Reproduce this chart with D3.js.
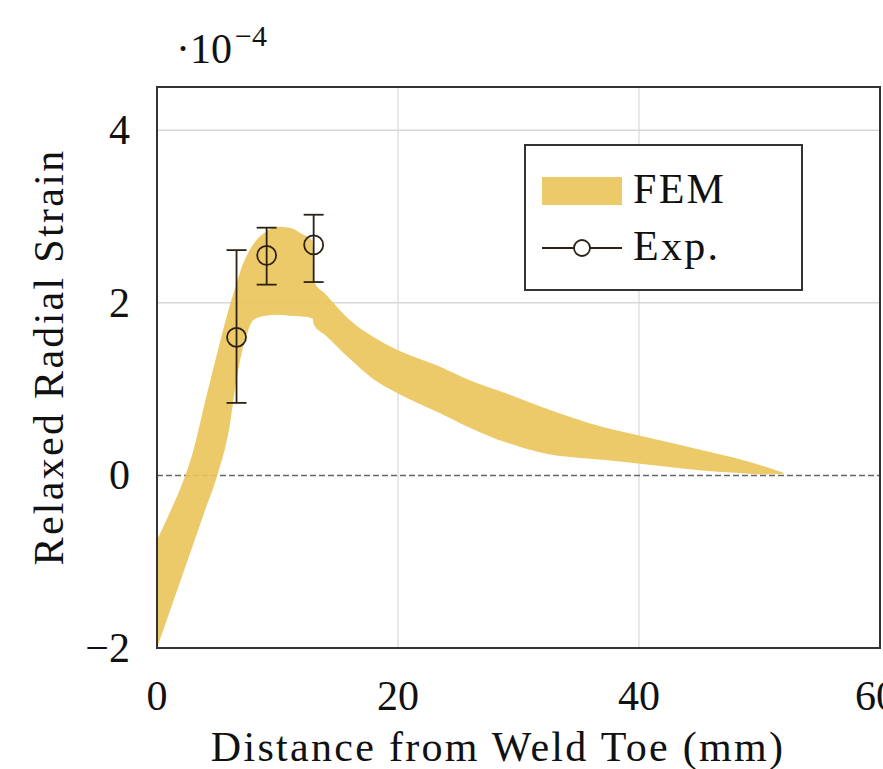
<!DOCTYPE html>
<html>
<head>
<meta charset="utf-8">
<script src="https://cdn.jsdelivr.net/npm/d3@7"></script>
<style>
  body { margin: 0; background: #fff; }
  text { font-family: "Liberation Serif", "DejaVu Serif", serif; fill: #111; }
  .lbl { font-size: 42px; letter-spacing: 2.3px; }
</style>
</head>
<body>
<div id="chart"></div>
<script>
// FEM band (units of 1e-4)
const femX    = [0, 1, 2, 3, 4, 5, 6, 6.6, 7, 7.5, 8, 9, 10, 11, 12, 12.9, 13, 14, 16, 18, 20, 23.5, 26, 29, 32, 37, 41, 45, 48, 50.5, 52];
const femHigh = [-0.75, -0.45, -0.13, 0.28, 0.86, 1.42, 1.95, 2.22, 2.4, 2.56, 2.68, 2.82, 2.88, 2.87, 2.8, 2.72, 2.25, 2.1, 1.8, 1.6, 1.45, 1.26, 1.1, 0.95, 0.79, 0.56, 0.43, 0.3, 0.2, 0.1, 0.03];
const femLow  = [-2, -1.6, -1.2, -0.8, -0.4, 0, 0.55, 1.11, 1.4, 1.65, 1.8, 1.85, 1.86, 1.85, 1.84, 1.82, 1.75, 1.62, 1.35, 1.11, 0.95, 0.72, 0.55, 0.38, 0.26, 0.18, 0.12, 0.06, 0.03, 0.01, 0.02];

// experimental points with error bars
const expX    = [6.6, 9.1, 13.0];
const expY    = [1.6, 2.55, 2.67];
const expLow  = [0.84, 2.21, 2.24];
const expHigh = [2.61, 2.87, 3.02];

const xTicks = [0, 20, 40, 60];
const yTicks = [-2, 0, 2, 4];

const W = 883, H = 769;
const margin = {top: 87, right: 3, bottom: 121, left: 157};
const bandColor = "#ecc55c";
const ink = "#2b2214";

const svg = d3.select("#chart").append("svg")
  .attr("width", W).attr("height", H);

const x = d3.scaleLinear().domain([0, 60]).range([margin.left, W - margin.right]);
const y = d3.scaleLinear().domain([-2, 4.5]).range([H - margin.bottom, margin.top]);

svg.append("defs").append("clipPath").attr("id", "plotClip")
  .append("rect")
  .attr("x", x(0)).attr("y", y(4.5))
  .attr("width", x(60) - x(0)).attr("height", y(-2) - y(4.5));

// grid
const grid = svg.append("g");
grid.selectAll(".vgrid").data(xTicks.slice(1, -1)).enter().append("line")
  .attr("x1", d => x(d)).attr("x2", d => x(d))
  .attr("y1", y(-2)).attr("y2", y(4.5))
  .attr("stroke", "#e0e0e0").attr("stroke-width", 1.5);
grid.selectAll(".hgrid").data(yTicks.filter(d => d > 0)).enter().append("line")
  .attr("x1", x(0)).attr("x2", x(60))
  .attr("y1", d => y(d)).attr("y2", d => y(d))
  .attr("stroke", "#d8d8d8").attr("stroke-width", 1.5);
grid.append("line")
  .attr("x1", x(0)).attr("x2", x(60))
  .attr("y1", y(0)).attr("y2", y(0))
  .attr("stroke", "#666").attr("stroke-width", 1.5)
  .attr("stroke-dasharray", "6,3");

// FEM band
const fem = femX.map((d, i) => ({x: d, lo: femLow[i], hi: femHigh[i]}));
const area = d3.area()
  .x(d => x(d.x))
  .y0(d => y(d.lo))
  .y1(d => y(d.hi))
  .curve(d3.curveMonotoneX);
svg.append("path")
  .datum(fem)
  .attr("clip-path", "url(#plotClip)")
  .attr("d", area)
  .attr("fill", bandColor)
  .attr("fill-opacity", 0.92);

// experimental error bars
const exp = expX.map((d, i) => ({x: d, y: expY[i], lo: expLow[i], hi: expHigh[i]}));
const eg = svg.append("g").attr("stroke", ink).attr("stroke-width", 1.8).attr("fill", "none");
const pts = eg.selectAll("g").data(exp).enter().append("g");
pts.append("line")
  .attr("x1", d => x(d.x)).attr("x2", d => x(d.x))
  .attr("y1", d => y(d.lo)).attr("y2", d => y(d.hi));
pts.append("line")
  .attr("x1", d => x(d.x) - 10).attr("x2", d => x(d.x) + 10)
  .attr("y1", d => y(d.hi)).attr("y2", d => y(d.hi));
pts.append("line")
  .attr("x1", d => x(d.x) - 10).attr("x2", d => x(d.x) + 10)
  .attr("y1", d => y(d.lo)).attr("y2", d => y(d.lo));
pts.append("circle")
  .attr("cx", d => x(d.x)).attr("cy", d => y(d.y))
  .attr("r", 9.5);

// frame
svg.append("rect")
  .attr("x", x(0)).attr("y", y(4.5))
  .attr("width", x(60) - x(0)).attr("height", y(-2) - y(4.5))
  .attr("fill", "none").attr("stroke", "#333").attr("stroke-width", 2);

// tick labels
svg.selectAll(".xt").data(xTicks).enter().append("text")
  .attr("x", d => x(d) - (d === 60 ? 4 : 0)).attr("y", 710)
  .attr("text-anchor", "middle")
  .style("font-size", "42px")
  .text(d => d);
svg.selectAll(".yt").data(yTicks).enter().append("text")
  .attr("x", 130).attr("y", d => y(d) + 14)
  .attr("text-anchor", "end")
  .style("font-size", "42px")
  .text(d => d < 0 ? "\u2212" + Math.abs(d) : d);

// scale factor
const sf = svg.append("text").attr("x", 176).attr("y", 63).style("font-size", "42px");
sf.append("tspan").text("\u00b710");
sf.append("tspan").attr("dy", -17).attr("dx", 3).style("font-size", "30px").text("\u22124");

// axis titles
svg.append("text").attr("class", "lbl")
  .attr("x", 498).attr("y", 761)
  .attr("text-anchor", "middle")
  .text("Distance from Weld Toe (mm)");
svg.append("text").attr("class", "lbl")
  .attr("transform", "translate(63,357) rotate(-90)")
  .attr("text-anchor", "middle")
  .text("Relaxed Radial Strain");

// legend
const lg = svg.append("g");
lg.append("rect")
  .attr("x", 525).attr("y", 145).attr("width", 277).attr("height", 145)
  .attr("fill", "#fff").attr("stroke", "#333").attr("stroke-width", 2);
lg.append("rect")
  .attr("x", 542).attr("y", 177).attr("width", 80).attr("height", 28)
  .attr("fill", bandColor).attr("fill-opacity", 0.92);
lg.append("text").attr("class", "lbl").attr("x", 633).attr("y", 203).text("FEM");
lg.append("line")
  .attr("x1", 542).attr("x2", 622).attr("y1", 248).attr("y2", 248)
  .attr("stroke", ink).attr("stroke-width", 1.8);
lg.append("circle")
  .attr("cx", 582).attr("cy", 248).attr("r", 8)
  .attr("fill", "#fff").attr("stroke", ink).attr("stroke-width", 1.8);
lg.append("text").attr("class", "lbl").attr("x", 633).attr("y", 260).text("Exp.");
</script>
</body>
</html>
